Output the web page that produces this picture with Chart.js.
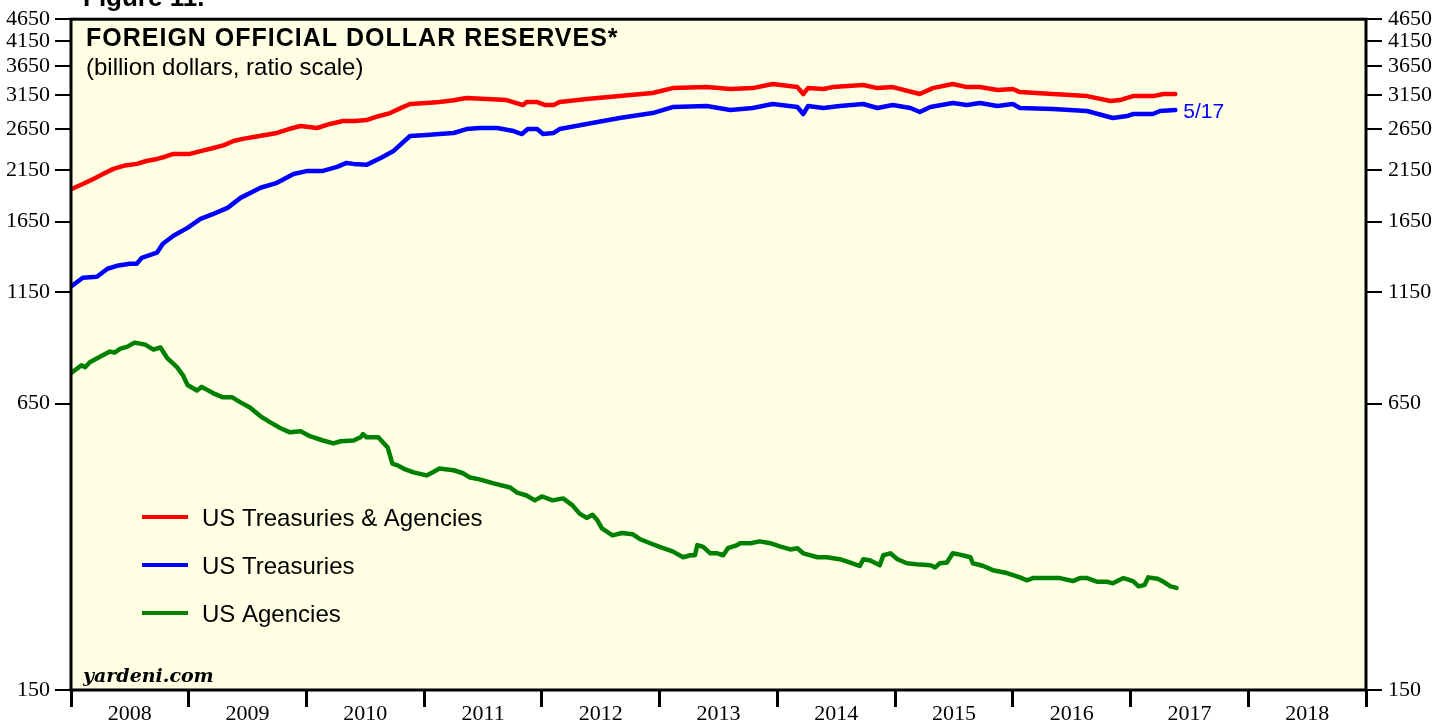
<!DOCTYPE html>
<html><head><meta charset="utf-8">
<style>html,body{margin:0;padding:0;background:#fff;overflow:hidden}#wrap{width:1447px;height:721px;position:relative}canvas{display:block}</style>
<script src="https://cdn.jsdelivr.net/npm/chart.js@4.4.0/dist/chart.umd.min.js"></script>
</head><body><div id="wrap"><canvas id="c" width="1447" height="721"></canvas></div>
<script>
// ---- data (billion dollars) ----
const yearLabels = ['2008','2009','2010','2011','2012','2013','2014','2015','2016','2017','2018'];
const yTickValues = [150,650,1150,1650,2150,2650,3150,3650,4150,4650];
const seriesNames = ['US Treasuries & Agencies','US Treasuries','US Agencies'];
const lastLabel = '5/17';

const totalDates = [2008.01,2008.10,2008.19,2008.28,2008.36,2008.46,2008.56,2008.64,2008.73,2008.80,2008.87,2009.01,2009.11,2009.21,2009.30,2009.38,2009.46,2009.55,2009.65,2009.75,2009.85,2009.95,2010.09,2010.20,2010.31,2010.41,2010.51,2010.61,2010.71,2010.80,2010.88,2011.02,2011.13,2011.25,2011.36,2011.53,2011.70,2011.84,2011.87,2011.96,2012.03,2012.10,2012.15,2012.38,2012.66,2012.94,2013.11,2013.40,2013.60,2013.79,2013.96,2014.17,2014.22,2014.26,2014.39,2014.47,2014.73,2014.85,2014.98,2015.21,2015.32,2015.49,2015.61,2015.72,2015.87,2016.00,2016.06,2016.34,2016.63,2016.83,2016.91,2017.02,2017.19,2017.28,2017.38];
const totalValues = [1952,2000,2053,2110,2161,2200,2217,2250,2274,2300,2333,2333,2370,2405,2440,2493,2520,2544,2570,2597,2650,2691,2664,2720,2761,2760,2775,2830,2876,2950,3012,3027,3043,3070,3105,3089,3074,2996,3043,3043,2996,2996,3043,3089,3137,3186,3268,3285,3252,3268,3336,3285,3170,3268,3252,3285,3319,3268,3285,3170,3268,3336,3285,3285,3235,3252,3202,3170,3137,3058,3074,3137,3137,3170,3170];

const treasDates = [2008.01,2008.10,2008.22,2008.31,2008.39,2008.50,2008.56,2008.60,2008.73,2008.78,2008.87,2008.99,2009.10,2009.21,2009.33,2009.44,2009.61,2009.75,2009.89,2010.01,2010.14,2010.26,2010.34,2010.40,2010.51,2010.63,2010.74,2010.88,2011.02,2011.13,2011.25,2011.36,2011.47,2011.62,2011.76,2011.83,2011.88,2011.96,2012.01,2012.10,2012.15,2012.38,2012.66,2012.94,2013.11,2013.40,2013.60,2013.79,2013.96,2014.17,2014.22,2014.26,2014.39,2014.53,2014.73,2014.85,2014.98,2015.13,2015.21,2015.30,2015.49,2015.61,2015.72,2015.87,2016.00,2016.06,2016.34,2016.63,2016.85,2016.97,2017.02,2017.19,2017.25,2017.38];
const treasValues = [1188,1238,1244,1296,1316,1330,1330,1371,1407,1473,1535,1598,1673,1717,1770,1863,1962,2012,2106,2139,2139,2183,2228,2217,2206,2286,2369,2557,2570,2583,2597,2650,2664,2664,2623,2583,2650,2650,2583,2597,2650,2719,2804,2876,2966,2981,2921,2951,3012,2966,2862,2981,2951,2981,3012,2951,2996,2951,2891,2966,3027,2996,3027,2981,3012,2951,2936,2906,2804,2832,2862,2862,2906,2921];

const agencyDates = [2008.01,2008.09,2008.12,2008.16,2008.25,2008.33,2008.37,2008.42,2008.48,2008.54,2008.63,2008.70,2008.76,2008.82,2008.90,2008.95,2008.99,2009.07,2009.11,2009.21,2009.29,2009.37,2009.44,2009.52,2009.61,2009.69,2009.78,2009.86,2009.95,2010.03,2010.14,2010.23,2010.29,2010.40,2010.46,2010.48,2010.51,2010.61,2010.69,2010.73,2010.78,2010.84,2010.91,2011.02,2011.07,2011.13,2011.25,2011.33,2011.39,2011.47,2011.59,2011.73,2011.79,2011.87,2011.94,2012.00,2012.09,2012.18,2012.26,2012.32,2012.38,2012.43,2012.47,2012.51,2012.60,2012.68,2012.77,2012.83,2012.92,2013.00,2013.11,2013.20,2013.26,2013.30,2013.32,2013.37,2013.43,2013.49,2013.54,2013.58,2013.66,2013.68,2013.77,2013.85,2013.94,2014.02,2014.11,2014.17,2014.22,2014.34,2014.42,2014.53,2014.62,2014.70,2014.73,2014.79,2014.87,2014.90,2014.96,2015.02,2015.10,2015.21,2015.30,2015.34,2015.38,2015.44,2015.49,2015.55,2015.64,2015.66,2015.75,2015.83,2015.95,2016.06,2016.12,2016.17,2016.29,2016.40,2016.51,2016.57,2016.63,2016.72,2016.80,2016.85,2016.94,2017.02,2017.07,2017.12,2017.15,2017.23,2017.28,2017.34,2017.39];
const agencyValues = [763,791,783,803,827,848,844,861,870,888,879,857,866,819,783,752,715,695,708,685,671,671,654,637,609,591,573,561,564,550,538,530,536,538,547,556,547,547,519,478,473,464,457,450,457,466,462,455,445,441,432,423,412,406,396,404,396,400,386,370,362,368,358,343,331,335,333,325,318,312,305,296,299,299,315,312,302,302,299,310,315,318,318,321,318,313,308,310,302,296,296,293,288,283,293,291,284,299,302,293,287,285,284,281,287,288,302,300,296,287,283,277,273,267,263,266,266,266,262,266,266,261,261,259,266,262,255,257,267,265,261,255,253];

// ---- build ----
function pts(d, v){ return d.map((x,i)=>({x:x, y:v[i]})); }
const xTickValues = [];
yearLabels.forEach(l => { const y = Number(l); xTickValues.push(y); xTickValues.push(y + 0.5); });
xTickValues.push(Number(yearLabels[yearLabels.length-1]) + 1);

const SERIF = '"Liberation Serif", "Times New Roman", serif';
const SANS = '"Liberation Sans", Arial, Helvetica, sans-serif';
const PLOT_BG = 'rgb(255,255,228)';

const deco = {
  id: 'deco',
  beforeDraw(chart){
    const {ctx, chartArea:a} = chart;
    ctx.save();
    ctx.fillStyle = PLOT_BG;
    ctx.fillRect(a.left, a.top, a.right - a.left, a.bottom - a.top);
    ctx.restore();
  },
  afterDatasetsDraw(chart){
    const {ctx, chartArea:a} = chart;
    ctx.save();
    ctx.strokeStyle = '#000';
    ctx.lineWidth = 3;
    ctx.strokeRect(a.left, a.top, a.right - a.left, a.bottom - a.top);
    ctx.restore();
  },
  afterDraw(chart){
    const {ctx, chartArea:a} = chart;
    ctx.save();
    ctx.fillStyle = '#000';
    ctx.textBaseline = 'alphabetic';
    ctx.textAlign = 'left';
    ctx.font = 'bold 26px ' + SANS;
    ctx.fillText('Figure 11.', 83, 6);
    ctx.font = 'bold 25px ' + SANS;
    if ('letterSpacing' in ctx) ctx.letterSpacing = '1px';
    ctx.fillText('FOREIGN OFFICIAL DOLLAR RESERVES*', a.left + 15, 46);
    if ('letterSpacing' in ctx) ctx.letterSpacing = '0px';
    ctx.font = '24px ' + SANS;
    ctx.fillText('(billion dollars, ratio scale)', a.left + 15, 75);
    ctx.font = 'bold italic 19px "DejaVu Serif", serif';
    ctx.fillText('yardeni.com', a.left + 12, a.bottom - 8);

    // legend
    const rows = [517, 565, 613];
    chart.data.datasets.forEach((ds, i) => {
      ctx.strokeStyle = ds.borderColor;
      ctx.lineWidth = 4;
      ctx.beginPath();
      ctx.moveTo(142, rows[i]);
      ctx.lineTo(188, rows[i]);
      ctx.stroke();
      ctx.fillStyle = '#000';
      ctx.font = '24px ' + SANS;
      ctx.fillText(ds.label, 202, rows[i] + 9);
    });

    // last-date label
    const xs = chart.scales.x, ys = chart.scales.y;
    const lx = xs.getPixelForValue(treasDates[treasDates.length-1]);
    const ly = ys.getPixelForValue(treasValues[treasValues.length-1]);
    ctx.fillStyle = '#0000FF';
    ctx.font = '21px ' + SANS;
    ctx.fillText(lastLabel, lx + 8, ly + 8);
    ctx.restore();
  }
};

function yAxis(pos, width, pad){
  return {
    type: 'logarithmic', position: pos, min: 150, max: 4650,
    afterBuildTicks(s){ s.ticks = yTickValues.map(v => ({value: v})); },
    afterFit(s){ s.width = width; },
    grid: {drawOnChartArea: false, drawTicks: true, tickLength: 16, lineWidth: 2, color: '#000'},
    border: {display: false},
    ticks: {padding: pad, color: '#000', font: {family: SERIF, size: 22}, autoSkip: false, callback: v => String(v)}
  };
}

new Chart(document.getElementById('c'), {
  type: 'line',
  data: {
    datasets: [
      {label: seriesNames[0], data: pts(totalDates, totalValues), borderColor: '#FF0000', yAxisID: 'y'},
      {label: seriesNames[1], data: pts(treasDates, treasValues), borderColor: '#0000FF', yAxisID: 'y'},
      {label: seriesNames[2], data: pts(agencyDates, agencyValues), borderColor: '#008000', yAxisID: 'y'}
    ]
  },
  options: {
    responsive: false, animation: false, devicePixelRatio: 1,
    layout: {padding: {top: 18, left: 0, right: 0, bottom: 0}},
    plugins: {legend: {display: false}, tooltip: {enabled: false}},
    elements: {
      point: {radius: 0, hoverRadius: 0},
      line: {borderWidth: 4.5, tension: 0, borderJoinStyle: 'round', borderCapStyle: 'round', fill: false}
    },
    scales: {
      x: {
        type: 'linear', position: 'bottom', min: 2008, max: 2019,
        afterBuildTicks(s){ s.ticks = xTickValues.map(v => ({value: v})); },
        afterFit(s){ s.height = 31; },
        grid: {drawOnChartArea: false, drawTicks: true, tickLength: 17, lineWidth: 3,
               color: c => (c.tick && Number.isInteger(c.tick.value)) ? '#000' : 'rgba(0,0,0,0)'},
        border: {display: false},
        ticks: {autoSkip: false, maxRotation: 0, minRotation: 0, padding: -6, color: '#000',
                font: {family: SERIF, size: 22},
                callback: v => Number.isInteger(v) ? '' : String(Math.floor(v))}
      },
      y: yAxis('left', 71, 5),
      y2: yAxis('right', 81, 6)
    }
  },
  plugins: [deco]
});
</script>
</body></html>
